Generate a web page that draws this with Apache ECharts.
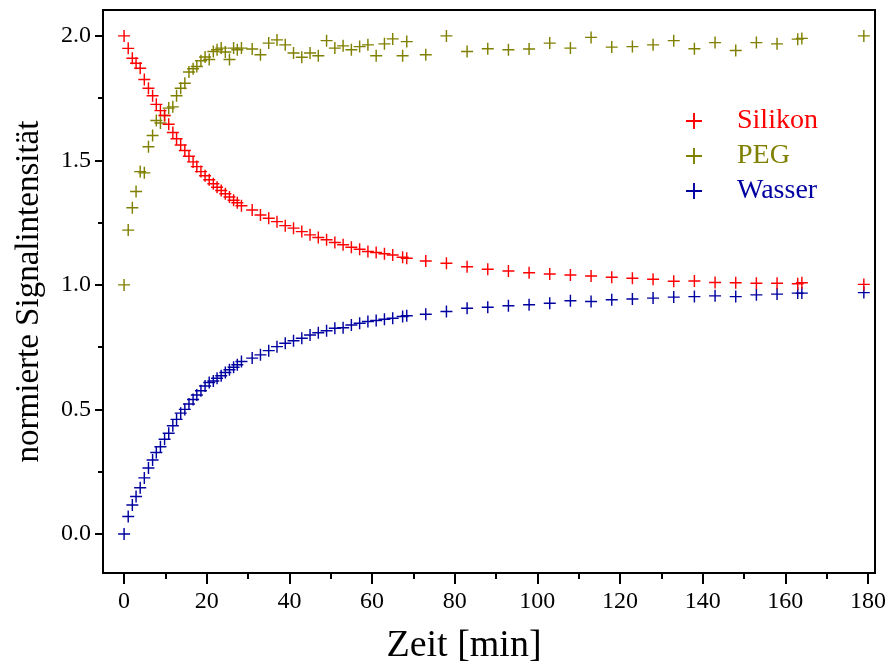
<!DOCTYPE html>
<html><head><meta charset="utf-8">
<script src="https://cdn.jsdelivr.net/npm/echarts@6/dist/echarts.min.js"></script>
<style>html,body{margin:0;padding:0;background:#fff}#c{width:887px;height:665px}</style>
</head><body><div id="c"></div>
<script>
// Measurement times [min]
const times = [
  0, 1, 2, 2.9, 3.9, 4.9, 5.9, 6.9, 7.8, 8.8, 9.8, 10.8, 11.8, 12.7, 13.7, 14.7, 15.7, 16.7, 17.6, 18.6,
  19.6, 20.6, 21.6, 22.5, 23.5, 24.5, 25.5, 26.5, 27.4, 28.4,
  31, 33, 35, 37, 39, 41, 43, 45, 47, 49, 51, 53, 55, 57, 59, 61, 63, 65, 67.4, 68.4,
  73, 78, 83, 88, 93, 98, 103, 108, 113, 118, 123, 128, 133, 138, 143, 148, 153, 158, 163, 164, 179
];
const silikon = [
  2.00, 1.95, 1.91, 1.89, 1.87, 1.825, 1.79, 1.76, 1.725, 1.70, 1.68, 1.645, 1.612, 1.587, 1.562, 1.54, 1.517, 1.494, 1.475, 1.455,
  1.438, 1.422, 1.406, 1.392, 1.379, 1.366, 1.353, 1.34, 1.33, 1.318,
  1.301, 1.281, 1.268, 1.254, 1.238, 1.228, 1.214, 1.201, 1.190, 1.181, 1.170, 1.161, 1.151, 1.143, 1.134, 1.130, 1.125, 1.120, 1.111, 1.107,
  1.096, 1.087, 1.073, 1.063, 1.056, 1.049, 1.044, 1.040, 1.036, 1.031, 1.027, 1.023, 1.015, 1.016, 1.010, 1.009, 1.007, 1.007, 1.005, 1.009, 1.002
];
const peg = [
  1.00, 1.22, 1.31, 1.375, 1.455, 1.45, 1.555, 1.60, 1.66, 1.65, 1.68, 1.71, 1.715, 1.76, 1.79, 1.81, 1.855, 1.868, 1.877, 1.90,
  1.915, 1.905, 1.937, 1.944, 1.951, 1.935, 1.905, 1.951, 1.944, 1.951,
  1.947, 1.924, 1.971, 1.984, 1.964, 1.931, 1.914, 1.931, 1.920, 1.981, 1.951, 1.960, 1.944, 1.957, 1.964, 1.920, 1.968, 1.988, 1.920, 1.977,
  1.924, 2.000, 1.937, 1.948, 1.944, 1.947, 1.971, 1.951, 1.994, 1.955, 1.957, 1.964, 1.981, 1.948, 1.973, 1.941, 1.973, 1.968, 1.987, 1.990, 2.000
];
const wasser = [
  0.000, 0.07, 0.116, 0.15, 0.185, 0.225, 0.265, 0.297, 0.327, 0.35, 0.38, 0.404, 0.434, 0.46, 0.485, 0.50, 0.522, 0.54, 0.558, 0.575,
  0.594, 0.608, 0.614, 0.625, 0.635, 0.648, 0.659, 0.669, 0.679, 0.692,
  0.706, 0.719, 0.736, 0.752, 0.766, 0.776, 0.786, 0.799, 0.808, 0.816, 0.826, 0.828, 0.839, 0.846, 0.853, 0.857, 0.862, 0.866, 0.873, 0.876,
  0.882, 0.893, 0.906, 0.910, 0.916, 0.920, 0.926, 0.936, 0.933, 0.940, 0.943, 0.947, 0.951, 0.953, 0.956, 0.953, 0.960, 0.963, 0.967, 0.967, 0.969
];
const seriesNames = ['Silikon', 'PEG', 'Wasser'];
const xTickLabels = [0, 20, 40, 60, 80, 100, 120, 140, 160, 180];
const xMinorTicks = [10, 30, 50, 70, 90, 110, 130, 150, 170];
const yTickLabels = [0, 0.5, 1.0, 1.5, 2.0];
const yMinorTicks = [0.25, 0.75, 1.25, 1.75];

const FONT = '"Liberation Serif", "Times New Roman", serif';
const colors = ['#ff0000', '#808000', '#0000a0'];
const plus = 'path://M0,4.4H10V5.6H0Z M4.4,0H5.6V10H4.4Z';
const X_MIN = -5.1, X_MAX = 181.7, Y_MIN = -0.157, Y_MAX = 2.104;

const chart = echarts.init(document.getElementById('c'), null, {renderer: 'canvas'});
const lineStyle = {color: '#000', width: 2};
const values = [silikon, peg, wasser];
chart.setOption({
  animation: false,
  backgroundColor: '#fff',
  grid: {left: 103, right: 12, top: 10, bottom: 92, outerBoundsMode: 'none', containLabel: false,
         show: true, borderColor: '#000', borderWidth: 2, backgroundColor: 'transparent'},
  xAxis: [
    {type: 'value', min: X_MIN, max: X_MAX, position: 'bottom',
     axisLine: {show: true, onZero: false, lineStyle}, splitLine: {show: false},
     axisTick: {show: true, inside: false, length: 11, lineStyle: {color: '#000', width: 2}, customValues: xTickLabels},
     axisLabel: {show: true, customValues: xTickLabels, margin: 17, fontFamily: FONT, fontSize: 24, color: '#000',
                 formatter: v => String(Math.round(v))},
     name: 'Zeit [min]', nameLocation: 'middle', nameGap: 54,
     nameTextStyle: {fontFamily: FONT, fontSize: 38, color: '#000', padding: [0, 50, 0, 0]}},
    {type: 'value', min: X_MIN, max: X_MAX, position: 'bottom',
     axisLine: {show: false, onZero: false}, splitLine: {show: false},
     axisTick: {show: true, inside: false, length: 6, lineStyle: {color: '#000', width: 2}, customValues: xMinorTicks},
     axisLabel: {show: false}}
  ],
  yAxis: [
    {type: 'value', min: Y_MIN, max: Y_MAX, position: 'left',
     axisLine: {show: true, onZero: false, lineStyle}, splitLine: {show: false},
     axisTick: {show: true, inside: false, length: 8, lineStyle: {color: '#000', width: 2}, customValues: yTickLabels},
     axisLabel: {show: true, customValues: yTickLabels, margin: 12, fontFamily: FONT, fontSize: 24, color: '#000',
                 formatter: v => v.toFixed(1)},
     name: 'normierte Signalintensität', nameLocation: 'middle', nameGap: 57,
     nameTextStyle: {fontFamily: FONT, fontSize: 33, color: '#000'}},
    {type: 'value', min: Y_MIN, max: Y_MAX, position: 'left',
     axisLine: {show: false, onZero: false}, splitLine: {show: false},
     axisTick: {show: true, inside: false, length: 5, lineStyle: {color: '#000', width: 2}, customValues: yMinorTicks},
     axisLabel: {show: false}}
  ],
  legend: {
    orient: 'vertical', left: 681, top: 102, itemWidth: 16, itemHeight: 16, itemGap: 7,
    icon: plus,
    textStyle: {fontFamily: FONT, fontSize: 28, padding: [0, 0, 0, 30]},
    data: seriesNames.map((n, i) => ({name: n, textStyle: {color: colors[i]}}))
  },
  series: seriesNames.map((n, i) => ({
    name: n, type: 'scatter', xAxisIndex: 0, yAxisIndex: 0,
    symbol: plus, symbolSize: 12,
    itemStyle: {color: colors[i], opacity: 1},
    z: i === 0 ? 4 : (i === 1 ? 3 : 2),
    data: times.map((t, k) => [t, values[i][k]])
  }))
});
</script>
</body></html>
